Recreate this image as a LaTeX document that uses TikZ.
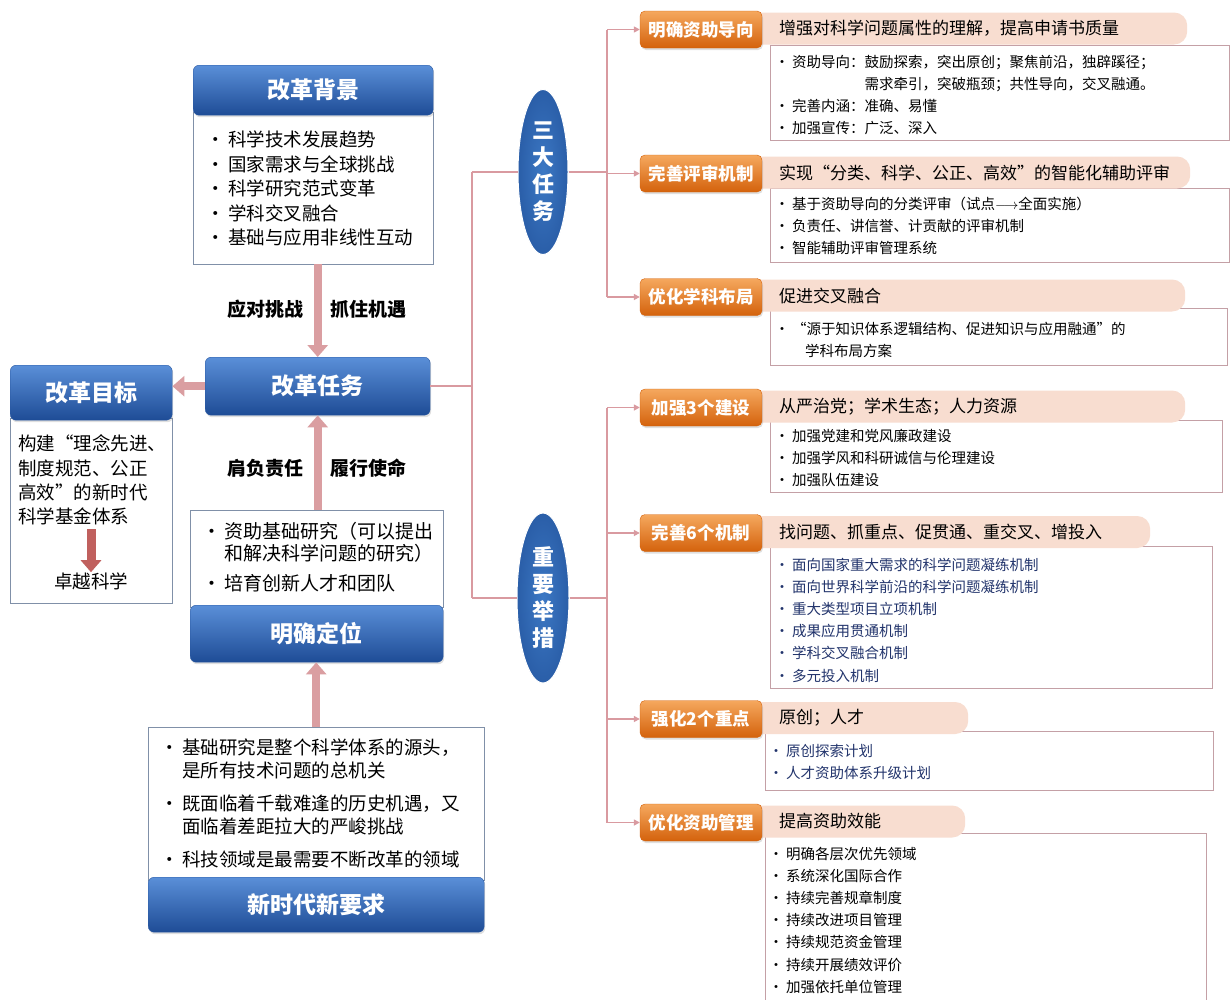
\documentclass[tikz,border=0pt]{standalone}
\usepackage{fontspec}
\setmainfont{Noto Sans CJK SC}
\usetikzlibrary{arrows.meta,positioning,shapes.geometric,shadows}
\definecolor{blueTop}{HTML}{5A8FD8}
\definecolor{blueBot}{HTML}{1E4C96}
\definecolor{blueLine}{HTML}{2B5AA3}
\definecolor{ellIn}{HTML}{3C78C4}
\definecolor{ellOut}{HTML}{2A5EA8}
\definecolor{orTop}{HTML}{F5A85E}
\definecolor{orBot}{HTML}{D4620C}
\definecolor{peach}{HTML}{F8DDD0}
\definecolor{linkPink}{HTML}{D99AA0}
\definecolor{arrPink}{HTML}{DA9EA1}
\definecolor{goalRed}{HTML}{C0605E}
\definecolor{lLine}{HTML}{8090A8}
\definecolor{rLine}{HTML}{C4A0A6}
\definecolor{navy}{HTML}{22346C}
\newcommand{\lbul}{\makebox[24pt][c]{•}}
\newcommand{\rbul}{\makebox[20pt][c]{•}}

\begin{document}
\begin{tikzpicture}[x=1pt,y=-1pt]
\tikzstyle{bluehead}=[draw=blueLine,top color=blueTop,bottom color=blueBot,rounded corners=6pt,anchor=north west,text=white,font=\fontsize{23}{23}\selectfont\bfseries,drop shadow={opacity=0.25,shadow xshift=1pt,shadow yshift=-2pt}]
\tikzstyle{lbox}=[draw=lLine,fill=white,anchor=north west,inner sep=0pt]
\tikzstyle{ltext}=[anchor=north west,inner sep=0pt,align=left,font=\fontsize{18.5}{24.5}\selectfont]
\tikzstyle{lab}=[inner sep=0pt,font=\fontsize{19}{19}\selectfont\bfseries]
\tikzstyle{bigarrow}=[draw=arrPink,line width=8pt,-{Triangle[length=12pt,width=20pt]}]
\tikzstyle{oval}=[ellipse,inner sep=0pt,inner color=ellIn,outer color=ellOut,draw=white,line width=1pt,text=white,align=center,font=\fontsize{22}{27}\selectfont\bfseries]
\tikzstyle{link}=[draw=linkPink,line width=2pt]
\tikzstyle{thinarrow}=[draw=linkPink,line width=1.6pt,-{Triangle[length=6pt,width=6pt]}]
\tikzstyle{orangebox}=[top color=orTop,bottom color=orBot,draw=orBot,rounded corners=5pt,minimum width=122pt,minimum height=37pt,inner sep=0pt,text=white,font=\fontsize{17.5}{17.5}\selectfont\bfseries,drop shadow={opacity=0.25,shadow xshift=1pt,shadow yshift=-2pt}]
\tikzstyle{peachbar}=[fill=peach,rounded corners=13pt,anchor=west,minimum height=32pt,inner sep=0pt]
\tikzstyle{ptext}=[anchor=west,inner sep=0pt,font=\fontsize{17}{17}\selectfont]
\tikzstyle{rbox}=[draw=rLine,fill=white,anchor=north west,inner sep=0pt]
\tikzstyle{rtext}=[anchor=north west,inner sep=0pt,align=left,font=\fontsize{14.5}{22}\selectfont]

\path[use as bounding box,fill=white] (0,0) rectangle (1231,999);

\node[lbox,minimum width=240pt,minimum height=152pt] (bgBody) at (193,112) {};
\node[bluehead,minimum width=240pt,minimum height=50pt] (bgHead) at (193,65) {改革背景};
\node[ltext] (bgText) at (204,130.7) {\lbul 科学技术发展趋势\\ \lbul 国家需求与全球挑战\\ \lbul 科学研究范式变革\\ \lbul 学科交叉融合\\ \lbul 基础与应用非线性互动};

\node[bluehead,minimum width=225pt,minimum height=58pt] (rwTask) at (205,357) {改革任务};

\node[lbox,minimum width=162pt,minimum height=185pt] (gBody) at (10,418) {};
\node[bluehead,minimum width=162pt,minimum height=55pt] (gHead) at (10,365) {改革目标};
\node[ltext,font=\fontsize{18.5}{24.3}\selectfont] (gText) at (18,434.7) {构建“理念先进、\\制度规范、公正\\高效”的新时代\\科学基金体系};
\node[inner sep=0pt,font=\fontsize{18.5}{18.5}\selectfont] (gFoot) at (91,581) {卓越科学};

\node[lbox,minimum width=253pt,minimum height=97pt] (dwBody) at (190,510) {};
\node[bluehead,minimum width=253pt,minimum height=57pt] (dwHead) at (190,605) {明确定位};
\node[ltext,font=\fontsize{19}{22}\selectfont] (dwText) at (200,521.7) {\lbul 资助基础研究（可以提出\\ \hspace*{24pt}和解决科学问题的研究）\\[8pt] \lbul 培育创新人才和团队};

\node[lbox,minimum width=336pt,minimum height=153pt] (ntBody) at (148,727) {};
\node[bluehead,minimum width=336pt,minimum height=55pt] (ntHead) at (148,877) {新时代新要求};
\node[ltext,font=\fontsize{18.5}{23}\selectfont] (ntText) at (158,738.7) {\lbul 基础研究是整个科学体系的源头，\\ \hspace*{24pt}是所有技术问题的总机关\\[10pt] \lbul 既面临着千载难逢的历史机遇，又\\ \hspace*{24pt}面临着差距拉大的严峻挑战\\[10pt] \lbul 科技领域是最需要不断改革的领域};

\node[lab] (lCope) at (265,309) {应对挑战};
\node[lab] (lSeize) at (368,309) {抓住机遇};
\node[lab] (lDuty) at (265,468) {肩负责任};
\node[lab] (lMission) at (368,468) {履行使命};

\draw[bigarrow] (rwTask.north |- bgBody.south) -- (rwTask.north);
\draw[bigarrow] (rwTask.south |- dwBody.north) -- (rwTask.south);
\draw[bigarrow] (ntBody.north) -- (ntBody.north |- dwHead.south);
\draw[bigarrow] (rwTask.west) -- (rwTask.west -| gHead.east);
\draw[draw=goalRed,line width=9pt,-{Triangle[length=12pt,width=20pt]},shorten <=4pt] (gFoot.north |- gText.south) -- (gFoot.north);

\coordinate (j0) at (472,383);
\coordinate (b1) at (607,0);
\node[oval,minimum width=50pt,minimum height=165pt] (s3) at (543,172) {三\\大\\任\\务};
\node[oval,minimum width=52pt,minimum height=170pt] (zy) at (543,598) {重\\要\\举\\措};
\draw[link] (rwTask.east) -- (j0 |- rwTask.east);
\draw[link] (j0 |- s3.west) -- (j0 |- zy.west);
\draw[link] (j0 |- s3.west) -- (s3.west);
\draw[link] (j0 |- zy.west) -- (zy.west);

% three tasks
\node[rbox,minimum width=459pt,minimum height=95pt] (cFund) at (770,45) {};
\node[peachbar,minimum width=442pt] (pFund) at (745,28.5) {};
\node[orangebox] (oFund) at (701,29.5) {明确资助导向};
\node[ptext] (tFund) at (779,28.5) {增强对科学问题属性的理解，提高申请书质量};
\node[rtext] (iFund) at (772,55.5) {\rbul 资助导向：鼓励探索，突出原创；聚焦前沿，独辟蹊径；\\ \hspace*{20pt}\phantom{资助导向：}需求牵引，突破瓶颈；共性导向，交叉融通。\\ \rbul 完善内涵：准确、易懂\\ \rbul 加强宣传：广泛、深入};

\node[rbox,minimum width=459pt,minimum height=74pt] (cReview) at (770,188) {};
\node[peachbar,minimum width=445pt] (pReview) at (745,172.5) {};
\node[orangebox] (oReview) at (701,173.5) {完善评审机制};
\node[ptext] (tReview) at (779,172.5) {实现“分类、科学、公正、高效”的智能化辅助评审};
\node[rtext] (iReview) at (772,196.5) {\rbul 基于资助导向的分类评审（试点$\longrightarrow$全面实施）\\ \rbul 负责任、讲信誉、计贡献的评审机制\\ \rbul 智能辅助评审管理系统};

\node[rbox,minimum width=457pt,minimum height=57pt] (cLayout) at (770,308) {};
\node[peachbar,minimum width=440pt] (pLayout) at (745,295.5) {};
\node[orangebox] (oLayout) at (701,297) {优化学科布局};
\node[ptext] (tLayout) at (779,295.5) {促进交叉融合};
\node[rtext] (iLayout) at (772,321.5) {\rbul “源于知识体系逻辑结构、促进知识与应用融通”的\\ \hspace*{33pt}学科布局方案};

% key measures
\node[rbox,minimum width=452pt,minimum height=72pt] (cBuild) at (770,420) {};
\node[peachbar,minimum width=440pt] (pBuild) at (745,406.5) {};
\node[orangebox] (oBuild) at (701,407.5) {加强3个建设};
\node[ptext] (tBuild) at (779,406.5) {从严治党；学术生态；人力资源};
\node[rtext] (iBuild) at (772,429.5) {\rbul 加强党建和党风廉政建设\\ \rbul 加强学风和科研诚信与伦理建设\\ \rbul 加强队伍建设};

\node[rbox,minimum width=442pt,minimum height=142pt] (cMech) at (770,546) {};
\node[peachbar,minimum width=405pt] (pMech) at (745,532) {};
\node[orangebox] (oMech) at (701,533) {完善6个机制};
\node[ptext] (tMech) at (779,532) {找问题、抓重点、促贯通、重交叉、增投入};
\node[rtext,text=navy,font=\fontsize{14.5}{22.2}\selectfont] (iMech) at (772,557.5) {\rbul 面向国家重大需求的科学问题凝练机制\\ \rbul 面向世界科学前沿的科学问题凝练机制\\ \rbul 重大类型项目立项机制\\ \rbul 成果应用贯通机制\\ \rbul 学科交叉融合机制\\ \rbul 多元投入机制};

\node[rbox,minimum width=448pt,minimum height=59pt] (cFocus) at (765,731) {};
\node[peachbar,minimum width=223pt] (pFocus) at (745,718) {};
\node[orangebox] (oFocus) at (701,719) {强化2个重点};
\node[ptext] (tFocus) at (779,718) {原创；人才};
\node[rtext,text=navy] (iFocus) at (766,744.5) {\rbul 原创探索计划\\ \rbul 人才资助体系升级计划};

\node[rbox,minimum width=441pt,minimum height=175pt] (cManage) at (765,833) {};
\node[peachbar,minimum width=220pt] (pManage) at (745,821.5) {};
\node[orangebox] (oManage) at (701,822.5) {优化资助管理};
\node[ptext] (tManage) at (779,821.5) {提高资助效能};
\node[rtext,font=\fontsize{14.5}{22.2}\selectfont] (iManage) at (766,846.5) {\rbul 明确各层次优先领域\\ \rbul 系统深化国际合作\\ \rbul 持续完善规章制度\\ \rbul 持续改进项目管理\\ \rbul 持续规范资金管理\\ \rbul 持续开展绩效评价\\ \rbul 加强依托单位管理};

\draw[link] (s3.east) -- (b1 |- s3.east);
\draw[link] (zy.east) -- (b1 |- zy.east);
\draw[link] (b1 |- oFund.west) -- (b1 |- oLayout.west);
\draw[link] (b1 |- oBuild.west) -- (b1 |- oManage.west);
\foreach \n in {oFund,oReview,oLayout,oBuild,oMech,oFocus,oManage}
  \draw[thinarrow] (b1 |- \n.west) -- (\n.west);
\end{tikzpicture}
\end{document}
